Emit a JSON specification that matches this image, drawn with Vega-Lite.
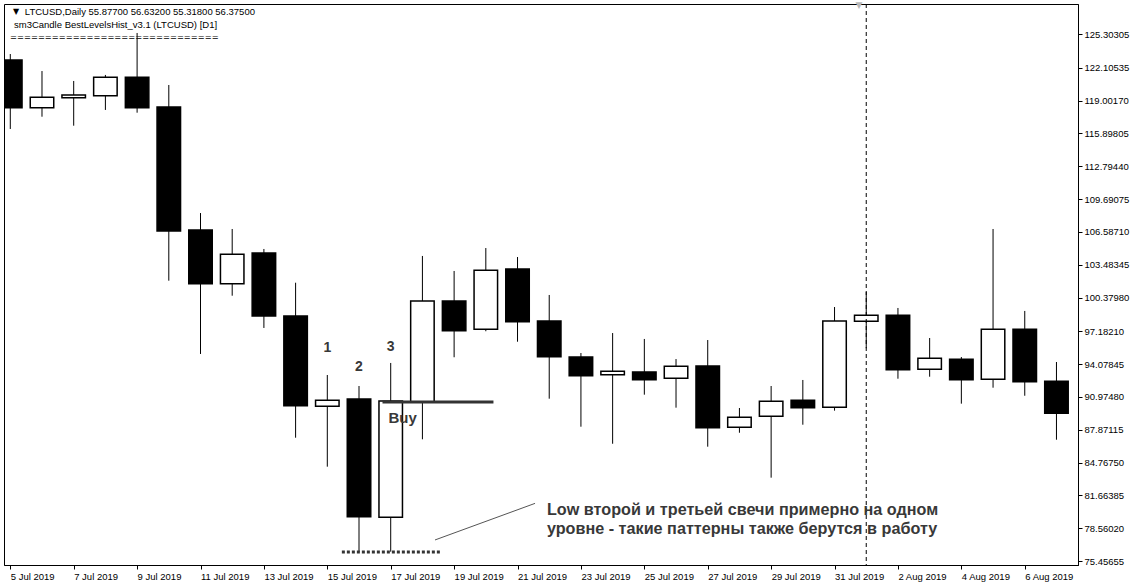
{
  "$schema": "https://vega.github.io/schema/vega-lite/v6.json",
  "width": 1074,
  "height": 561,
  "autosize": {"type": "none"},
  "padding": {"left": 4, "top": 4, "right": 52, "bottom": 23},
  "background": "#ffffff",
  "config": {
    "font": "Liberation Sans",
    "view": {"stroke": "#000000", "strokeWidth": 1},
    "axis": {"labelOverlap": false}
  },
  "datasets": {
    "candles": [
      {"d": "2019-07-05T00:00:00Z", "o": 122.84, "h": 123.41, "l": 116.32, "c": 118.33},
      {"d": "2019-07-06T00:00:00Z", "o": 118.33, "h": 121.80, "l": 117.48, "c": 119.32},
      {"d": "2019-07-07T00:00:00Z", "o": 119.28, "h": 120.86, "l": 116.63, "c": 119.53},
      {"d": "2019-07-08T00:00:00Z", "o": 119.47, "h": 121.43, "l": 118.12, "c": 121.21},
      {"d": "2019-07-09T00:00:00Z", "o": 121.21, "h": 125.40, "l": 117.86, "c": 118.33},
      {"d": "2019-07-10T00:00:00Z", "o": 118.40, "h": 120.48, "l": 101.97, "c": 106.67},
      {"d": "2019-07-11T00:00:00Z", "o": 106.77, "h": 108.37, "l": 95.04, "c": 101.69},
      {"d": "2019-07-12T00:00:00Z", "o": 101.69, "h": 106.86, "l": 100.55, "c": 104.47},
      {"d": "2019-07-13T00:00:00Z", "o": 104.59, "h": 104.97, "l": 97.50, "c": 98.63},
      {"d": "2019-07-14T00:00:00Z", "o": 98.63, "h": 101.78, "l": 87.12, "c": 90.15},
      {"d": "2019-07-15T00:00:00Z", "o": 90.09, "h": 93.05, "l": 84.38, "c": 90.66},
      {"d": "2019-07-16T00:00:00Z", "o": 90.78, "h": 92.01, "l": 76.34, "c": 79.65},
      {"d": "2019-07-17T00:00:00Z", "o": 79.59, "h": 94.19, "l": 76.34, "c": 90.59},
      {"d": "2019-07-18T00:00:00Z", "o": 90.50, "h": 104.31, "l": 86.97, "c": 100.05},
      {"d": "2019-07-19T00:00:00Z", "o": 100.05, "h": 102.89, "l": 94.73, "c": 97.24},
      {"d": "2019-07-20T00:00:00Z", "o": 97.37, "h": 105.06, "l": 97.19, "c": 102.95},
      {"d": "2019-07-21T00:00:00Z", "o": 103.08, "h": 104.21, "l": 96.20, "c": 98.09},
      {"d": "2019-07-22T00:00:00Z", "o": 98.16, "h": 100.62, "l": 90.81, "c": 94.78},
      {"d": "2019-07-23T00:00:00Z", "o": 94.75, "h": 95.13, "l": 88.16, "c": 92.99},
      {"d": "2019-07-24T00:00:00Z", "o": 93.08, "h": 97.02, "l": 86.55, "c": 93.40},
      {"d": "2019-07-25T00:00:00Z", "o": 93.34, "h": 96.46, "l": 91.19, "c": 92.61},
      {"d": "2019-07-26T00:00:00Z", "o": 92.74, "h": 94.56, "l": 89.96, "c": 93.87},
      {"d": "2019-07-27T00:00:00Z", "o": 93.90, "h": 96.36, "l": 86.27, "c": 88.07},
      {"d": "2019-07-28T00:00:00Z", "o": 88.11, "h": 89.93, "l": 87.59, "c": 89.05},
      {"d": "2019-07-29T00:00:00Z", "o": 89.15, "h": 92.01, "l": 83.34, "c": 90.57},
      {"d": "2019-07-30T00:00:00Z", "o": 90.66, "h": 92.58, "l": 88.35, "c": 89.96},
      {"d": "2019-07-31T00:00:00Z", "o": 90.00, "h": 99.48, "l": 89.68, "c": 98.16},
      {"d": "2019-08-01T00:00:00Z", "o": 98.13, "h": 100.90, "l": 95.58, "c": 98.70},
      {"d": "2019-08-02T00:00:00Z", "o": 98.70, "h": 99.39, "l": 92.70, "c": 93.55},
      {"d": "2019-08-03T00:00:00Z", "o": 93.59, "h": 96.55, "l": 92.89, "c": 94.63},
      {"d": "2019-08-04T00:00:00Z", "o": 94.54, "h": 94.75, "l": 90.34, "c": 92.61},
      {"d": "2019-08-05T00:00:00Z", "o": 92.65, "h": 106.86, "l": 91.85, "c": 97.37},
      {"d": "2019-08-06T00:00:00Z", "o": 97.37, "h": 99.11, "l": 91.09, "c": 92.42},
      {"d": "2019-08-07T00:00:00Z", "o": 92.46, "h": 94.28, "l": 86.93, "c": 89.43}
    ]
  },
  "layer": [
    {
      "data": {"name": "candles"},
      "mark": {"type": "rule", "color": "#000000", "strokeWidth": 1, "clip": true},
      "encoding": {
        "x": {
          "field": "d", "type": "temporal",
          "scale": {"type": "utc", "domain": [1562281290000, 1565181092160]},
          "axis": {
            "orient": "bottom",
            "values": [
              {"year": 2019, "month": 7, "date": 5, "utc": true},
              {"year": 2019, "month": 7, "date": 7, "utc": true},
              {"year": 2019, "month": 7, "date": 9, "utc": true},
              {"year": 2019, "month": 7, "date": 11, "utc": true},
              {"year": 2019, "month": 7, "date": 13, "utc": true},
              {"year": 2019, "month": 7, "date": 15, "utc": true},
              {"year": 2019, "month": 7, "date": 17, "utc": true},
              {"year": 2019, "month": 7, "date": 19, "utc": true},
              {"year": 2019, "month": 7, "date": 21, "utc": true},
              {"year": 2019, "month": 7, "date": 23, "utc": true},
              {"year": 2019, "month": 7, "date": 25, "utc": true},
              {"year": 2019, "month": 7, "date": 27, "utc": true},
              {"year": 2019, "month": 7, "date": 29, "utc": true},
              {"year": 2019, "month": 7, "date": 31, "utc": true},
              {"year": 2019, "month": 8, "date": 2, "utc": true},
              {"year": 2019, "month": 8, "date": 4, "utc": true},
              {"year": 2019, "month": 8, "date": 6, "utc": true}
            ],
            "tickCount": 60,
            "labelExpr": "utcFormat(datum.value, '%-d %b %Y')",
            "title": null,
            "grid": false,
            "labelAlign": "left",
            "labelBaseline": "top",
            "labelPadding": 2,
            "labelFontSize": 9.5,
            "labelColor": "#000000",
            "labelFlush": false,
            "labelOverlap": false,
            "tickSize": 4,
            "tickColor": "#000000",
            "domainColor": "#000000"
          }
        },
        "y": {
          "field": "l", "type": "quantitative",
          "scale": {"domain": [75.0811, 128.1405], "zero": false, "nice": false},
          "axis": {
            "orient": "right",
            "values": [125.30305, 122.10535, 119.0017, 115.89805, 112.7944, 109.69075, 106.5871, 103.48345, 100.3798, 97.1821, 94.07845, 90.9748, 87.87115, 84.7675, 81.66385, 78.5602, 75.45655],
            "tickCount": 60,
            "format": ".5f",
            "title": null,
            "grid": false,
            "labelFontSize": 9.5,
            "labelColor": "#000000",
            "labelPadding": 2,
            "labelOverlap": false,
            "labelFlush": false,
            "tickSize": 4,
            "tickColor": "#000000",
            "domainColor": "#000000"
          }
        },
        "y2": {"field": "h"}
      }
    },
    {
      "data": {"name": "candles"},
      "mark": {"type": "bar", "size": 23.5, "stroke": "#000000", "strokeWidth": 1.5, "clip": true},
      "encoding": {
        "x": {"field": "d", "type": "temporal"},
        "y": {"field": "o", "type": "quantitative"},
        "y2": {"field": "c"},
        "fill": {"condition": {"test": "datum.o > datum.c", "value": "#000000"}, "value": "#ffffff"}
      }
    },
    {
      "data": {"values": [{"d": "2019-08-01T00:00:00Z"}]},
      "mark": {"type": "rule", "color": "#000000", "strokeWidth": 1, "strokeDash": [4, 3]},
      "encoding": {"x": {"field": "d", "type": "temporal"}}
    },
    {
      "data": {"values": [{"d": "2019-07-16T17:47:00Z", "d2": "2019-07-20T05:47:00Z", "v": 90.5}]},
      "mark": {"type": "rule", "color": "#333333", "strokeWidth": 3},
      "encoding": {
        "x": {"field": "d", "type": "temporal"},
        "x2": {"field": "d2"},
        "y": {"field": "v", "type": "quantitative"}
      }
    },
    {
      "data": {"values": [{"d": "2019-07-15T11:01:00Z", "d2": "2019-07-18T13:16:00Z", "v": 76.31}]},
      "mark": {"type": "rule", "color": "#333333", "strokeWidth": 3, "strokeDash": [3, 2]},
      "encoding": {
        "x": {"field": "d", "type": "temporal"},
        "x2": {"field": "d2"},
        "y": {"field": "v", "type": "quantitative"}
      }
    },
    {
      "data": {"values": [{"d": "2019-07-18T09:32:00Z", "d2": "2019-07-21T13:16:00Z", "v": 77.45, "v2": 80.91}]},
      "mark": {"type": "rule", "color": "#555555", "strokeWidth": 1},
      "encoding": {
        "x": {"field": "d", "type": "temporal"},
        "x2": {"field": "d2"},
        "y": {"field": "v", "type": "quantitative"},
        "y2": {"field": "v2"}
      }
    },
    {
      "data": {"values": [
        {"d": "2019-07-15T00:00:00Z", "v": 95.26, "t": "1"},
        {"d": "2019-07-16T00:00:00Z", "v": 93.43, "t": "2"},
        {"d": "2019-07-17T00:00:00Z", "v": 95.35, "t": "3"}
      ]},
      "mark": {"type": "text", "font": "Liberation Sans", "fontWeight": "bold", "fontSize": 14, "color": "#383838", "align": "center", "baseline": "alphabetic"},
      "encoding": {
        "x": {"field": "d", "type": "temporal"},
        "y": {"field": "v", "type": "quantitative"},
        "text": {"field": "t"}
      }
    },
    {
      "data": {"values": [{"d": "2019-07-16T22:16:00Z", "v": 88.48, "t": "Buy"}]},
      "mark": {"type": "text", "font": "Liberation Sans", "fontWeight": "bold", "fontSize": 15, "color": "#383838", "align": "left", "baseline": "alphabetic"},
      "encoding": {
        "x": {"field": "d", "type": "temporal"},
        "y": {"field": "v", "type": "quantitative"},
        "text": {"field": "t"}
      }
    },
    {
      "data": {"values": [
        {"d": "2019-07-21T22:16:00Z", "v": 79.81, "t": "Low второй и третьей свечи примерно на одном"},
        {"d": "2019-07-21T22:16:00Z", "v": 77.98, "t": "уровне - такие паттерны также берутся в работу"}
      ]},
      "mark": {"type": "text", "font": "Liberation Sans", "fontWeight": "bold", "fontSize": 16.2, "color": "#383838", "align": "left", "baseline": "alphabetic"},
      "encoding": {
        "x": {"field": "d", "type": "temporal"},
        "y": {"field": "v", "type": "quantitative"},
        "text": {"field": "t"}
      }
    },
    {
      "data": {"values": [
        {"d": "2019-07-05T02:01:00Z", "v": 127.38, "t": "▼"}
      ]},
      "mark": {"type": "text", "font": "DejaVu Sans", "fontSize": 8, "color": "#000000", "align": "left", "baseline": "middle"},
      "encoding": {
        "x": {"field": "d", "type": "temporal"},
        "y": {"field": "v", "type": "quantitative"},
        "text": {"field": "t"}
      }
    },
    {
      "data": {"values": [
        {"d": "2019-07-05T11:01:00Z", "v": 127.38, "t": "LTCUSD,Daily  55.87700 56.63200 55.31800 56.37500"},
        {"d": "2019-07-05T02:47:00Z", "v": 126.15, "t": "sm3Candle BestLevelsHist_v3.1  (LTCUSD) [D1]"}
      ]},
      "mark": {"type": "text", "font": "Liberation Sans", "fontSize": 9.5, "color": "#000000", "align": "left", "baseline": "middle"},
      "encoding": {
        "x": {"field": "d", "type": "temporal"},
        "y": {"field": "v", "type": "quantitative"},
        "text": {"field": "t"}
      }
    },
    {
      "data": {"values": [
        {"d": "2019-07-04T23:50:00Z", "v": 124.93, "t": "=============================="}
      ]},
      "mark": {"type": "text", "font": "DejaVu Sans", "fontSize": 8.3, "color": "#000000", "align": "left", "baseline": "middle"},
      "encoding": {
        "x": {"field": "d", "type": "temporal"},
        "y": {"field": "v", "type": "quantitative"},
        "text": {"field": "t"}
      }
    },
    {
      "data": {"values": [{"d": "2019-07-31T18:29:00Z", "v": 128.0, "t": "▼"}]},
      "mark": {"type": "text", "font": "DejaVu Sans", "fontSize": 9, "color": "#b8b8b8", "align": "center", "baseline": "middle"},
      "encoding": {
        "x": {"field": "d", "type": "temporal"},
        "y": {"field": "v", "type": "quantitative"},
        "text": {"field": "t"}
      }
    }
  ]
}
